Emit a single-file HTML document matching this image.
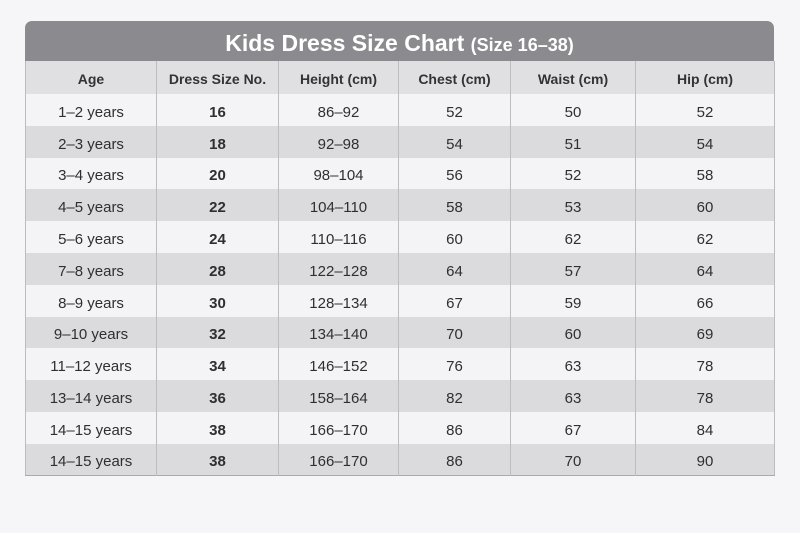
<!DOCTYPE html>
<html><head><style>
body{margin:0;width:800px;height:533px;background:#f6f6f8;font-family:"Liberation Sans",sans-serif;overflow:hidden}
.wrap{position:absolute;left:25px;top:21px;width:749px}
.title{height:40px;background:#8b8a8e;border-radius:7px 7px 0 0;color:#fff;text-align:center;font-weight:bold;font-size:23px;line-height:44px}
.title span{font-size:18px}
table{border-collapse:collapse;width:749px;table-layout:fixed;border-bottom:1px solid #aaa;border-left:1px solid #bbb;border-right:1px solid #bbb}
td,th{text-align:center;font-size:15px;color:#2f2f2f;padding:0;border-left:1px solid #bdbdc0;box-sizing:border-box}
td:first-child,th:first-child{border-left:none}
th{height:33px;background:#e0dfe2;font-weight:bold;font-size:14px;color:#333;padding-top:2px}
td{height:31.8px;padding-top:5px}
tr:nth-child(even) td{background:#f4f4f6}
tr:nth-child(odd) td{background:#dbdadd}
td:nth-child(2){font-weight:bold}
</style></head><body>
<div class="wrap">
<div class="title">Kids Dress Size Chart <span>(Size 16–38)</span></div>
<table>
<colgroup><col style="width:131px"><col style="width:122px"><col style="width:120px"><col style="width:112px"><col style="width:125px"><col style="width:139px"></colgroup>
<tr><th>Age</th><th>Dress Size No.</th><th>Height (cm)</th><th>Chest (cm)</th><th>Waist (cm)</th><th>Hip (cm)</th></tr>
<tr><td>1–2 years</td><td>16</td><td>86–92</td><td>52</td><td>50</td><td>52</td></tr>
<tr><td>2–3 years</td><td>18</td><td>92–98</td><td>54</td><td>51</td><td>54</td></tr>
<tr><td>3–4 years</td><td>20</td><td>98–104</td><td>56</td><td>52</td><td>58</td></tr>
<tr><td>4–5 years</td><td>22</td><td>104–110</td><td>58</td><td>53</td><td>60</td></tr>
<tr><td>5–6 years</td><td>24</td><td>110–116</td><td>60</td><td>62</td><td>62</td></tr>
<tr><td>7–8 years</td><td>28</td><td>122–128</td><td>64</td><td>57</td><td>64</td></tr>
<tr><td>8–9 years</td><td>30</td><td>128–134</td><td>67</td><td>59</td><td>66</td></tr>
<tr><td>9–10 years</td><td>32</td><td>134–140</td><td>70</td><td>60</td><td>69</td></tr>
<tr><td>11–12 years</td><td>34</td><td>146–152</td><td>76</td><td>63</td><td>78</td></tr>
<tr><td>13–14 years</td><td>36</td><td>158–164</td><td>82</td><td>63</td><td>78</td></tr>
<tr><td>14–15 years</td><td>38</td><td>166–170</td><td>86</td><td>67</td><td>84</td></tr>
<tr><td>14–15 years</td><td>38</td><td>166–170</td><td>86</td><td>70</td><td>90</td></tr>
</table>
</div>
</body></html>
